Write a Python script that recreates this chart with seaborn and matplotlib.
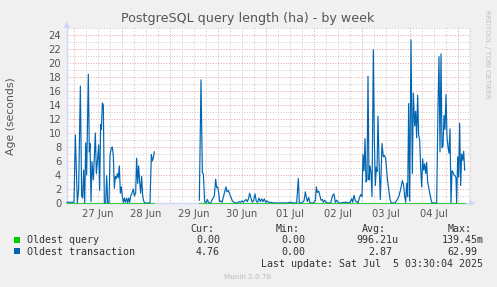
import numpy as np
import pandas as pd
import matplotlib
matplotlib.use("Agg")
import matplotlib.pyplot as plt
import seaborn as sns
from matplotlib.patches import Rectangle, Polygon

# ---------------- data ----------------
title = "PostgreSQL query length (ha) - by week"
y_label = "Age (seconds)"
day_labels = ["27 Jun", "28 Jun", "29 Jun", "30 Jun", "01 Jul", "02 Jul", "03 Jul", "04 Jul"]
y_ticks = [0, 2, 4, 6, 8, 10, 12, 14, 16, 18, 20, 22, 24]
series_names = ["Oldest query", "Oldest transaction"]
series_colors = ["#00CC00", "#0066B3"]
stat_headers = ["Cur:", "Min:", "Avg:", "Max:"]
stats_cur = ["0.00 ", "4.76 "]
stats_min = ["0.00 ", "0.00 "]
stats_avg = ["996.21u", "2.87 "]
stats_max = ["139.45m", "62.99 "]
last_update = "Last update: Sat Jul  5 03:30:04 2025"
munin_version = "Munin 2.0.76"
rrd_credit = "RRDTOOL / TOBI OETIKER"

# hours since 27 Jun 00:00 ; NaN marks the data gap
tx_hours = [-3.5, -2.8, -1.2, 0.0, 0.67, 1.67, 2.33, 3.17, 3.83, 4.33, 4.83, 5.33, 5.83, 6.33,
            7.17, 7.67, 8.0, 8.5, 9.0, 9.67, 10.67, 11.17, 11.67, 12.33, 12.83, 13.33, 13.67,
            14.17, 14.67, 15.17, 15.83, 16.33, 16.83, 17.5, 18.0, 18.67, 19.17, 19.67, 20.17,
            20.67, 21.17, 21.67, 22.17, 22.67, 23.17, 23.67, 24.17, 24.67, 25.17, 25.67, 26.33,
            26.83, 27.33, 27.83, 28.33, 29.0, 29.67, 30.17, 30.83, 31.33, 31.83, 32.33, 32.83,
            33.33, 33.83, 34.33, 34.83, 35.33, 38.0, 38.67, 39.17, 39.67, 40.17,
            50.0,
            62.67, 63.5, 64.17, 64.67, 65.33, 66.0, 66.67, 67.33, 68.33, 69.33, 70.17, 70.83,
            71.33, 71.83, 72.33, 72.83, 73.33, 74.0, 74.67, 75.33, 76.0, 76.5, 77.17, 77.83,
            78.5, 79.17, 80.0, 80.67, 81.67, 82.67, 83.33, 84.0, 84.67, 85.33, 86.0, 86.67,
            87.33, 87.83, 88.5, 89.17, 89.83, 90.5, 91.17, 91.83, 92.5, 93.17, 93.83, 94.5,
            95.17, 95.83, 96.5, 97.17, 98.33, 99.67, 103.0, 106.33, 108.33, 109.67, 111.33,
            112.17, 112.67, 113.83, 115.0, 115.67, 116.17, 116.67, 117.33, 118.0, 119.67,
            120.67, 121.17, 121.67, 122.33, 122.83, 123.5, 124.17, 124.67, 125.33, 126.0,
            127.0, 128.33, 129.33, 130.0, 130.67, 131.33, 132.33, 133.67, 135.0, 136.33,
            137.17, 138.0, 138.83, 139.33, 140.0, 140.67, 141.33, 142.0, 142.67, 143.33,
            144.0, 144.5, 145.0, 145.5, 146.0, 146.5, 147.0, 147.5, 148.0, 148.5, 149.0,
            149.67, 150.17, 150.67, 151.17, 151.5, 152.0, 152.5, 153.17, 154.0, 154.67,
            155.17, 155.83, 156.67, 157.33, 158.0, 158.67, 160.5, 161.67, 162.5, 163.33,
            164.17, 164.83, 165.33, 165.83, 166.33, 166.83, 167.33, 167.83, 168.5, 169.17,
            169.67, 170.33, 170.83, 171.33, 171.83, 172.33, 172.83, 173.33, 173.83, 174.33,
            174.83, 175.33, 175.83, 176.33, 176.83, 177.5, 178.0, 178.5, 179.0, 181.33,
            182.0, 182.5, 183.0, 183.5, 184.0, 184.5, 185.0, 185.5, 186.0, 186.5, 187.0,
            187.5, 188.0, 188.5, 189.0, 189.5, 190.0, 190.5, 191.0, 191.33, 191.83, 192.33,
            192.83, 193.33, 193.83, 194.33, 194.83, 195.33]
tx_values = [0.1, 0.1, 0.1, 0.1, 9.7, 0.0, 2.0, 16.7, 1.0, 0.7, 4.7, 0.0, 8.6, 4.0,
             18.4, 7.3, 8.5, 0.2, 5.9, 3.3, 10.0, 4.2, 5.8, 8.3, 1.8, 11.2, 10.5,
             14.3, 14.0, 0.0, 0.0, 3.9, 0.0, 0.0, 6.8, 7.9, 8.0, 6.7, 2.1,
             3.8, 3.5, 4.2, 3.6, 5.3, 1.4, 2.3, 0.9, 0.1, 0.7, 0.1, 0.7,
             0.0, 0.7, 0.1, 1.0, 1.4, 2.0, 1.0, 1.4, 6.4, 2.8, 5.3, 3.0,
             1.4, 3.8, 1.0, 0.3, 0.0, 0.0, 6.9, 6.0, 6.5, 7.3,
             np.nan,
             0.4, 17.6, 4.3, 4.2, 0.2, 0.0, 0.5, 0.0, 0.0, 0.6, 1.0, 3.4,
             2.2, 2.3, 1.5, 0.2, 0.3, 0.1, 0.8, 1.6, 2.3, 1.6, 1.8, 1.3,
             0.8, 0.3, 0.1, 0.0, 0.0, 0.2, 0.1, 0.3, 0.1, 0.3, 0.5, 0.2,
             0.7, 1.4, 0.7, 0.1, 0.4, 1.3, 0.2, 0.1, 0.7, 0.2, 0.6, 0.2,
             0.6, 0.1, 0.3, 0.1, 0.1, 0.0, 0.0, 0.0, 0.1, 0.0, 0.0,
             3.5, 0.0, 0.0, 0.3, 1.6, 0.8, 0.2, 0.8, 0.0, 0.0,
             0.3, 2.3, 1.5, 1.7, 1.2, 0.4, 0.5, 0.1, 0.4, 0.1,
             0.0, 0.0, 1.1, 1.3, 0.1, 0.4, 0.0, 0.0, 0.1, 0.1,
             0.0, 0.1, 0.6, 0.1, 1.1, 0.3, 0.2, 0.0, 0.7, 1.2,
             0.9, 6.9, 4.6, 9.2, 3.0, 3.3, 18.1, 3.3, 5.3, 4.3, 0.9,
             21.9, 9.0, 2.5, 5.1, 4.5, 12.4, 6.0, 0.5, 8.5, 6.6,
             6.8, 6.4, 3.5, 2.0, 0.5, 0.0, 0.0, 0.5, 1.0, 2.0,
             3.2, 2.5, 1.0, 0.1, 2.8, 0.9, 14.2, 0.3, 23.3, 4.2,
             15.7, 11.0, 13.1, 9.3, 15.4, 9.7, 9.0, 5.0, 2.3, 6.3,
             4.7, 5.6, 4.2, 5.8, 3.0, 2.0, 1.2, 0.5, 0.0, 0.0,
             13.8, 20.9, 7.3, 21.3, 7.9, 8.1, 12.5, 10.5, 15.5, 9.5, 8.0,
             7.1, 10.6, 0.0, 4.6, 4.4, 4.0, 3.9, 3.6, 0.0, 6.6, 3.7,
             11.4, 2.5, 7.0, 6.1, 7.4, 4.7]

q_hours = [-3.5, 40.17, 50.0, 62.67, 195.33]
q_values = [0.0, 0.0, np.nan, 0.0, 0.0]

# ---------------- figure ----------------
W, H = 497, 287
FONT = "#555555"
MONO = "DejaVu Sans Mono"
plt.rcParams["font.family"] = ["DejaVu Sans"]

fig = plt.figure(figsize=(W / 100, H / 100), dpi=100, facecolor="#F0F0F0")


def fx(x):
    return x / W


def fy(y):
    return 1 - y / H


ax_left, ax_right, ax_top, ax_bottom = 66.7, 469.0, 28.0, 203.0
ax = fig.add_axes([fx(ax_left), fy(ax_bottom), (ax_right - ax_left) / W, (ax_bottom - ax_top) / H])
ax.set_facecolor("white")

x_min = (ax_left - 74.0) / 2.0
x_max = (ax_right - 74.0) / 2.0
y_max = (ax_bottom - ax_top) / 7.0

# grid
major_col, minor_col = "#eaa4a4", "#cdcdcd"
for yv in range(1, 26):
    col = major_col if yv % 2 == 0 else minor_col
    ax.axhline(yv, color=col, lw=0.72, ls=(0, (1, 1.6)), zorder=1)
for hv in range(0, 200, 6):
    col = major_col if hv % 24 == 0 else minor_col
    ax.axvline(hv, color=col, lw=0.72, ls=(0, (1, 1.6)), zorder=1)


def make_df(hours, values):
    df = pd.DataFrame({"h": hours, "v": values})
    df["seg"] = df["v"].isna().cumsum()
    return df.dropna()


df_q = make_df(q_hours, q_values)
df_t = make_df(tx_hours, tx_values)

sns.lineplot(data=df_t, x="h", y="v", units="seg", estimator=None, sort=False,
             color=series_colors[1], lw=0.85, ax=ax, legend=False, zorder=3)
sns.lineplot(data=df_q, x="h", y="v", units="seg", estimator=None, sort=False,
             color=series_colors[0], lw=0.8, alpha=0.7, ax=ax, legend=False, zorder=3.2)
for ln in ax.lines:
    ln.set_clip_on(False)

ax.set_xlim(x_min, x_max)
ax.set_ylim(0, y_max)
ax.set_xticks([12 + 24 * i for i in range(len(day_labels))])
ax.set_xticklabels(day_labels)
ax.set_yticks(y_ticks)
ax.set_yticklabels([str(t) for t in y_ticks])
ax.tick_params(axis="both", length=0, labelsize=7.2, colors=FONT)
ax.tick_params(axis="x", pad=4.0)
ax.tick_params(axis="y", pad=4.0)
ax.set_xlabel("")
ax.set_ylabel("")
for s in ["top", "right"]:
    ax.spines[s].set_visible(False)
for s in ["left", "bottom"]:
    ax.spines[s].set_color("#CFD6F8")
    ax.spines[s].set_linewidth(1.0)
    ax.spines[s].set_zorder(2)

# axis arrows
arrow_col = "#CFD6F8"
fig.add_artist(Polygon([[fx(63.7), fy(28)], [fx(69.7), fy(28)], [fx(66.7), fy(21)]],
                       closed=True, transform=fig.transFigure, color=arrow_col, lw=0))
fig.add_artist(Polygon([[fx(469), fy(200)], [fx(469), fy(206)], [fx(476), fy(203)]],
                       closed=True, transform=fig.transFigure, color=arrow_col, lw=0))

# title and labels
fig.text(fx(248), fy(22.3), title, ha="center", va="baseline", fontsize=9.1, color=FONT)
fig.text(fx(11), fy(116), y_label, ha="center", va="center", rotation=90, fontsize=7.8, color=FONT)
fig.text(fx(487.5), fy(54), rrd_credit, ha="center", va="center", rotation=270,
         fontsize=5.0, color="#c0c0c0")

# legend
CW = 6.0
row_base = [243.0, 254.7]
for i, name in enumerate(series_names):
    fig.add_artist(Rectangle((fx(14), fy(row_base[i] - 0.3)), 6 / W, 6 / H,
                             transform=fig.transFigure, color=series_colors[i], lw=0))
    fig.text(fx(26.7), fy(row_base[i]), name, ha="left", va="baseline",
             fontsize=7.2, family=MONO, color="#333333")

header_left = [190.7, 276.0, 362.3, 447.7]
for hx, htxt in zip(header_left, stat_headers):
    fig.text(fx(hx), fy(231.7), htxt, ha="left", va="baseline", fontsize=7.2, family=MONO, color="#333333")

col_right = [226.0, 311.7, 398.3, 483.5]
for i in range(2):
    for R, vals in zip(col_right, [stats_cur, stats_min, stats_avg, stats_max]):
        s = vals[i]
        left = R - len(s) * CW
        fig.text(fx(left), fy(row_base[i]), s.rstrip(), ha="left", va="baseline",
                 fontsize=7.2, family=MONO, color="#333333")

fig.text(fx(483.3 - len(last_update) * CW), fy(267.3), last_update, ha="left", va="baseline",
         fontsize=7.2, family=MONO, color="#333333")
fig.text(fx(248), fy(278.7), munin_version, ha="center", va="baseline", fontsize=5.2, color="#bbbbbb")

fig.savefig("out.png", dpi=100, facecolor=fig.get_facecolor())
